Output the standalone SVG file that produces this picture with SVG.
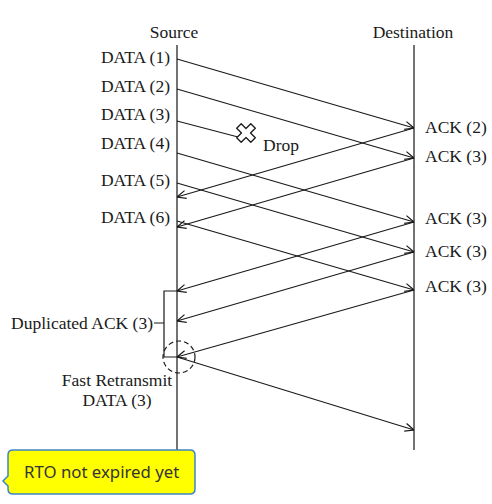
<svg xmlns="http://www.w3.org/2000/svg" width="492" height="504" viewBox="0 0 492 504">
<defs>
<style>
.t{font-family:"Liberation Serif","DejaVu Serif",serif;font-size:17.5px;fill:#1a1a1a}
.ln{stroke:#1a1a1a;stroke-width:1.2;fill:none}
.life{stroke:#444;stroke-width:1.5;fill:none}
</style>
<marker id="ah" viewBox="0 0 10 10" refX="10" refY="5" markerWidth="10" markerHeight="10" markerUnits="userSpaceOnUse" orient="auto">
<path d="M1,1 L10,5 L1,9" fill="none" stroke="#1a1a1a" stroke-width="1.2"/>
</marker>
</defs>
<rect width="492" height="504" fill="#fff"/>
<g id="source">
<line class="life" x1="177" y1="45" x2="177" y2="452"/>
<text class="t" x="174" y="38" text-anchor="middle">Source</text>
</g>
<g id="destination">
<line class="life" x1="414" y1="45" x2="414" y2="450"/>
<text class="t" x="413" y="38" text-anchor="middle">Destination</text>
</g>
<g id="data-labels" class="t" text-anchor="end">
<text x="170" y="63">DATA (1)</text>
<text x="170" y="92">DATA (2)</text>
<text x="170" y="120">DATA (3)</text>
<text x="170" y="149">DATA (4)</text>
<text x="170" y="186">DATA (5)</text>
<text x="170" y="223">DATA (6)</text>
</g>
<g id="ack-labels" class="t">
<text x="425" y="133">ACK (2)</text>
<text x="425" y="162">ACK (3)</text>
<text x="425" y="224">ACK (3)</text>
<text x="425" y="257">ACK (3)</text>
<text x="425" y="292">ACK (3)</text>
</g>
<g id="connectors" class="ln">
<line x1="177" y1="59" x2="414" y2="128" marker-end="url(#ah)"/>
<line x1="177" y1="89" x2="414" y2="158" marker-end="url(#ah)"/>
<line x1="177" y1="121" x2="238" y2="137"/>
<line x1="177" y1="153" x2="414" y2="222" marker-end="url(#ah)"/>
<line x1="177" y1="183" x2="414" y2="252" marker-end="url(#ah)"/>
<line x1="177" y1="221" x2="414" y2="290" marker-end="url(#ah)"/>
<line x1="414" y1="128" x2="177" y2="197" marker-end="url(#ah)"/>
<line x1="414" y1="158" x2="177" y2="227" marker-end="url(#ah)"/>
<line x1="414" y1="222" x2="177" y2="291" marker-end="url(#ah)"/>
<line x1="414" y1="252" x2="177" y2="321" marker-end="url(#ah)"/>
<line x1="414" y1="290" x2="177" y2="357" marker-end="url(#ah)"/>
<line x1="177" y1="357" x2="414" y2="430" marker-end="url(#ah)"/>
</g>
<g id="drop">
<path transform="translate(246,133) rotate(45)" d="M-3.2,-10 H3.2 V-3.2 H10 V3.2 H3.2 V10 H-3.2 V3.2 H-10 V-3.2 H-3.2 Z" fill="#fff" stroke="#1a1a1a" stroke-width="1.3" stroke-linejoin="round"/>
<text class="t" x="263" y="151">Drop</text>
</g>
<g id="duplicated-ack">
<path class="ln" d="M177,291 H164 V357 H177 M154,323 H164"/>
<text class="t" x="153" y="329" text-anchor="end">Duplicated ACK (3)</text>
</g>
<g id="fast-retransmit">
<circle cx="179" cy="357" r="16" fill="none" stroke="#1a1a1a" stroke-width="1.2" stroke-dasharray="5,3"/>
<text class="t" x="117" y="386" text-anchor="middle">Fast Retransmit</text>
<text class="t" x="117" y="406" text-anchor="middle">DATA (3)</text>
</g>
<g id="callout">
<path d="M13,450 H190 Q195,450 195,455 V489 Q195,494 190,494 H13 Q8,494 8,489 V486 L3,481 L8,476 V455 Q8,450 13,450 Z" fill="#ffff00" stroke="#3d85c6" stroke-width="1.5"/>
<text x="24" y="478" font-family="'Noto Sans','Open Sans',sans-serif" font-size="16.8" fill="#333">RTO not expired yet</text>
</g>
</svg>
